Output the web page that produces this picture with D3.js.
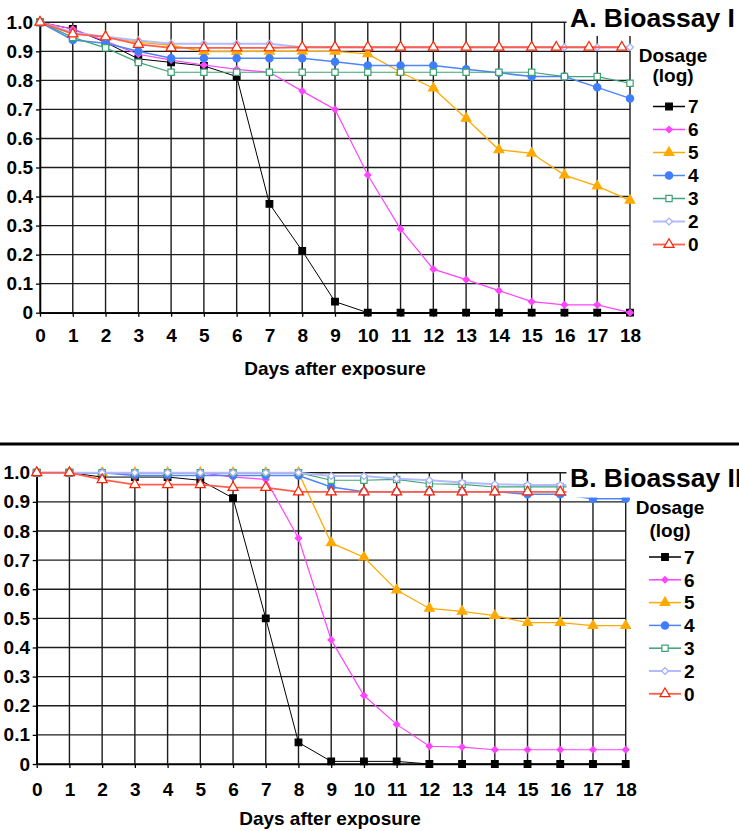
<!DOCTYPE html>
<html>
<head>
<meta charset="utf-8">
<script src="https://cdn.jsdelivr.net/npm/d3@7"></script>
<style>
	body { margin: 0; background: #fff; }
	svg { display: block; font-family: 'Liberation Sans', Arial, sans-serif; font-weight: bold; }
</style>
</head>
<body>
<svg width="739" height="831"></svg>
<script>

// days after exposure
const days = [ 0, 1, 2, 3, 4, 5, 6, 7, 8, 9, 10, 11, 12, 13, 14, 15, 16, 17, 18 ]
// control series in bioassay I was scored slightly off the day grid at the end
const daysA0 = [ 0, 1, 2, 3, 4, 5, 6, 7, 8, 9, 10, 11, 12, 13, 14, 15, 15.75, 16.75, 17.75 ]

const doses = [ '7', '6', '5', '4', '3', '2', '0' ]
const yTicks = [ 0, 0.1, 0.2, 0.3, 0.4, 0.5, 0.6, 0.7, 0.8, 0.9, 1.0 ]
const yTickLabels = [ '0', '0.1', '0.2', '0.3', '0.4', '0.5', '0.6', '0.7', '0.8', '0.9', '1.0' ]

// A. Bioassay I - survival per dosage
const a7 = [ 1, 0.977, 0.931, 0.874, 0.862, 0.85, 0.813, 0.375, 0.213, 0.038, 0, 0, 0, 0, 0, 0, 0, 0, 0 ]
const a6 = [ 1, 0.977, 0.935, 0.89, 0.87, 0.853, 0.838, 0.828, 0.763, 0.70, 0.474, 0.288, 0.15, 0.114, 0.076, 0.038, 0.027, 0.027, 0 ]
const a5 = [ 1, 0.962, 0.95, 0.931, 0.921, 0.899, 0.899, 0.9, 0.9, 0.9, 0.891, 0.828, 0.773, 0.669, 0.561, 0.549, 0.474, 0.436, 0.387 ]
const a4 = [ 1, 0.939, 0.928, 0.9, 0.876, 0.876, 0.876, 0.876, 0.876, 0.864, 0.851, 0.851, 0.851, 0.838, 0.826, 0.813, 0.813, 0.776, 0.738 ]
const a3 = [ 1, 0.948, 0.912, 0.862, 0.828, 0.828, 0.828, 0.828, 0.828, 0.828, 0.828, 0.828, 0.828, 0.828, 0.828, 0.828, 0.813, 0.813, 0.79 ]
const a2 = [ 1, 0.965, 0.95, 0.937, 0.926, 0.926, 0.926, 0.926, 0.914, 0.914, 0.914, 0.914, 0.914, 0.914, 0.914, 0.914, 0.914, 0.914, 0.914 ]
const a0 = [ 1, 0.96, 0.95, 0.924, 0.912, 0.912, 0.912, 0.912, 0.914, 0.914, 0.914, 0.914, 0.914, 0.914, 0.914, 0.914, 0.914, 0.914, 0.914 ]

// B. Bioassay II - survival per dosage
const b7 = [ 1, 1, 0.985, 0.985, 0.985, 0.974, 0.913, 0.5, 0.074, 0.009, 0.009, 0.009, 0, 0, 0, 0, 0, 0, 0 ]
const b6 = [ 1, 1, 1, 1, 1, 1, 0.985, 0.977, 0.775, 0.426, 0.235, 0.136, 0.061, 0.058, 0.049, 0.049, 0.049, 0.049, 0.049 ]
const b5 = [ 1, 1, 1, 1, 1, 1, 1, 1, 1, 0.759, 0.71, 0.597, 0.534, 0.524, 0.509, 0.485, 0.485, 0.475, 0.475 ]
const b4 = [ 1, 1, 1, 0.99, 0.99, 0.99, 0.99, 0.99, 0.99, 0.951, 0.935, 0.935, 0.935, 0.935, 0.935, 0.926, 0.926, 0.911, 0.911 ]
const b3 = [ 1, 1, 1, 1, 1, 1, 1, 1, 1, 0.974, 0.974, 0.977, 0.962, 0.96, 0.951, 0.951, 0.951, 0.951, 0.951 ]
const b2 = [ 1, 1, 1, 1, 1, 1, 1, 1, 1, 0.989, 0.989, 0.979, 0.974, 0.966, 0.96, 0.958, 0.958, 0.958, 0.958 ]
const b0 = [ 1, 1, 0.976, 0.959, 0.959, 0.959, 0.949, 0.949, 0.934, 0.934, 0.934, 0.934, 0.934, 0.934, 0.934, 0.934, 0.934, 0.934, 0.934 ]

const diamond = d3.symbolDiamond2 || d3.symbolDiamond

const styles = {
	'7': { line: '#000', lw: 1, fill: '#000', stroke: '#000', shape: d3.symbolSquare, size: 44 },
	'6': { line: '#ff44ff', lw: 1.2, fill: '#ff44ff', stroke: '#ff44ff', shape: diamond, size: 26 },
	'5': { line: '#ffaa00', lw: 1.3, fill: '#ffaa00', stroke: '#ffaa00', shape: d3.symbolTriangle, size: 40 },
	'4': { line: '#4d85ff', lw: 1.5, fill: '#3f7fff', stroke: '#3f7fff', shape: d3.symbolCircle, size: 42 },
	'3': { line: '#3da374', lw: 1.2, fill: '#fff', stroke: '#3da374', shape: d3.symbolSquare, size: 40 },
	'2': { line: '#b4baff', lw: 2, fill: '#fff', stroke: '#a4acff', shape: diamond, size: 30 },
	'0': { line: '#ff5e50', lw: 1.8, fill: '#fff', stroke: '#ff2200', shape: d3.symbolTriangle, size: 44 }
}

const svg = d3.select( 'svg' ),
	width = parseInt( svg.attr( 'width' ) ),
	fontSize = 19

const panels = [
	{
		title: 'A. Bioassay I',
		series: [ a7, a6, a5, a4, a3, a2, a0 ],
		xs: [ days, days, days, days, days, days, daysA0 ],
		left: 40, right: 630, top: 22.3, bottom: 312.7,
		labelPad: 3, xLabelPad: 12, xTitleY: 375, xTitleX: 335,
		titleX: 570, titleY: 26.7, boxBottom: 36,
		legendCx: 673, dosageY: 61.5, logY: 82,
		legendX0: 653, legendX1: 685, legendTextX: 688, legendY: 106.5, legendStep: 23
	},
	{
		title: 'B. Bioassay II',
		series: [ b7, b6, b5, b4, b3, b2, b0 ],
		xs: [ days, days, days, days, days, days, days ],
		left: 36.7, right: 625.7, top: 472.7, bottom: 764,
		labelPad: 2.7, xLabelPad: 15, xTitleY: 825, xTitleX: 330,
		titleX: 570, titleY: 486.7, boxBottom: 497.5,
		legendCx: 670, dosageY: 514, logY: 537,
		legendX0: 649, legendX1: 681, legendTextX: 684, legendY: 557, legendStep: 22.8
	}
]

panels.forEach( drawPanel )

// separator between the two bioassays
svg.append( 'line' )
	.attr( 'x1', 0 )
	.attr( 'x2', width )
	.attr( 'y1', 444 )
	.attr( 'y2', 444 )
	.attr( 'stroke', '#000' )
	.attr( 'stroke-width', 3 )

function drawPanel( p ) {

	const x = d3.scaleLinear().domain( [ 0, 18 ] ).range( [ p.left, p.right ] ),
		y = d3.scaleLinear().domain( [ 0, 1 ] ).range( [ p.bottom, p.top ] ),
		g = svg.append( 'g' )

	// grid
	g.append( 'g' )
		.selectAll( 'line' )
		.data( yTicks )
		.enter()
		.append( 'line' )
		.attr( 'x1', p.left )
		.attr( 'x2', p.right )
		.attr( 'y1', d => y( d ) )
		.attr( 'y2', d => y( d ) )
		.attr( 'stroke', '#1c1c1c' )
		.attr( 'stroke-width', 1.4 )

	g.append( 'g' )
		.selectAll( 'line' )
		.data( days )
		.enter()
		.append( 'line' )
		.attr( 'x1', d => x( d ) )
		.attr( 'x2', d => x( d ) )
		.attr( 'y1', p.top )
		.attr( 'y2', p.bottom )
		.attr( 'stroke', '#1c1c1c' )
		.attr( 'stroke-width', 1.4 )

	const yAxis = g.append( 'g' )
		.attr( 'transform', `translate(${p.left},0)` )
		.call( d3.axisLeft( y ).tickValues( yTicks ).tickFormat( ( d, i ) => yTickLabels[ i ] ).tickSize( 4 ).tickPadding( p.labelPad ).tickSizeOuter( 0 ) )

	const xAxis = g.append( 'g' )
		.attr( 'transform', `translate(0,${p.bottom})` )
		.call( d3.axisBottom( x ).tickValues( days ).tickFormat( d3.format( 'd' ) ).tickSize( 4 ).tickPadding( p.xLabelPad ).tickSizeOuter( 0 ) )

	;[ yAxis, xAxis ].forEach( ax => {

		ax.select( '.domain' ).attr( 'stroke', '#000' ).attr( 'stroke-width', 1.6 )
		ax.selectAll( '.tick line' ).attr( 'stroke', '#000' ).attr( 'stroke-width', 1.3 )
		ax.selectAll( 'text' )
			.attr( 'fill', '#000' )
			.attr( 'font-size', fontSize )
			.attr( 'font-weight', 'bold' )
			.attr( 'font-family', "'Liberation Sans', Arial, sans-serif" )

	})

	g.append( 'text' )
		.attr( 'x', p.xTitleX )
		.attr( 'y', p.xTitleY )
		.attr( 'text-anchor', 'middle' )
		.attr( 'font-size', fontSize )
		.text( 'Days after exposure' )

	// series, drawn in legend order so the control ends up on top
	doses.forEach( ( dose, i ) => {

		const st = styles[ dose ],
			pts = p.series[ i ].map( ( v, j ) => [ p.xs[ i ][ j ], v ] ),
			sg = g.append( 'g' )

		sg.append( 'path' )
			.datum( pts )
			.attr( 'fill', 'none' )
			.attr( 'stroke', st.line )
			.attr( 'stroke-width', st.lw )
			.attr( 'd', d3.line().x( d => x( d[ 0 ] ) ).y( d => y( d[ 1 ] ) ) )

		sg.selectAll( 'path.m' )
			.data( pts )
			.enter()
			.append( 'path' )
			.attr( 'class', 'm' )
			.attr( 'transform', d => `translate(${x( d[ 0 ] )},${y( d[ 1 ] )})` )
			.attr( 'd', d3.symbol().type( st.shape ).size( st.size ) )
			.attr( 'fill', st.fill )
			.attr( 'stroke', st.stroke )
			.attr( 'stroke-width', 1.2 )

	})

	// title sits on a white box that hides the corner of the grid
	g.append( 'rect' )
		.attr( 'x', p.titleX - 3.5 )
		.attr( 'y', p.titleY - 27 )
		.attr( 'width', width - p.titleX + 4 )
		.attr( 'height', p.boxBottom - p.titleY + 27 )
		.attr( 'fill', '#fff' )

	g.append( 'text' )
		.attr( 'x', p.titleX )
		.attr( 'y', p.titleY )
		.attr( 'font-size', 26.5 )
		.text( p.title )

	// legend
	g.append( 'text' )
		.attr( 'x', p.legendCx )
		.attr( 'y', p.dosageY )
		.attr( 'text-anchor', 'middle' )
		.attr( 'font-size', fontSize )
		.text( 'Dosage' )

	g.append( 'text' )
		.attr( 'x', p.legendCx )
		.attr( 'y', p.logY )
		.attr( 'text-anchor', 'middle' )
		.attr( 'font-size', fontSize )
		.text( '(log)' )

	const item = g.append( 'g' )
		.selectAll( 'g' )
		.data( doses )
		.enter()
		.append( 'g' )
		.attr( 'transform', ( d, i ) => `translate(0,${p.legendY + i * p.legendStep})` )

	item.append( 'line' )
		.attr( 'x1', p.legendX0 )
		.attr( 'x2', p.legendX1 )
		.attr( 'stroke', d => styles[ d ].line )
		.attr( 'stroke-width', d => Math.max( 1.5, styles[ d ].lw ) )

	item.append( 'path' )
		.attr( 'transform', `translate(${( p.legendX0 + p.legendX1 ) / 2},0)` )
		.attr( 'd', d => d3.symbol().type( styles[ d ].shape ).size( styles[ d ].size )() )
		.attr( 'fill', d => styles[ d ].fill )
		.attr( 'stroke', d => styles[ d ].stroke )
		.attr( 'stroke-width', 1.2 )

	item.append( 'text' )
		.attr( 'x', p.legendTextX )
		.attr( 'y', 0 )
		.attr( 'dy', '0.36em' )
		.attr( 'font-size', fontSize )
		.text( d => d )

}

</script>
</body>
</html>
